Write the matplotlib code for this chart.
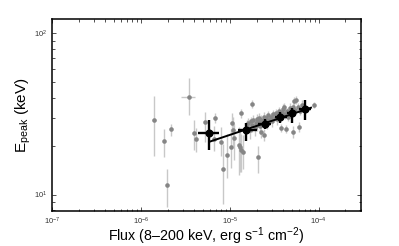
import matplotlib
matplotlib.use('Agg')
import matplotlib.pyplot as plt
import numpy as np

plt.rcParams['font.family'] = ['Liberation Sans', 'DejaVu Sans']
plt.rcParams['mathtext.fontset'] = 'custom'
plt.rcParams['mathtext.rm'] = 'Liberation Sans'
plt.rcParams['mathtext.it'] = 'Liberation Sans:italic'

# individual bursts (flux in erg/s/cm2, Epeak in keV)
flux = [1.42e-6, 1.84e-6, 2.17e-6, 1.99e-6, 3.45e-6, 3.93e-6, 4.2e-6,
        5.33e-6, 6.9e-6, 6.7e-6, 8.05e-6, 9.2e-6, 8.5e-6, 1.04e-5, 1.06e-5,
        1.09e-5, 1.13e-5, 1.27e-5, 1.32e-5, 1.35e-5, 1.41e-5, 1.35e-5,
        1.78e-5, 2.08e-5, 2.27e-5, 2.4e-5,
        1.55e-5, 1.62e-5, 1.68e-5, 1.75e-5, 1.8e-5, 1.85e-5, 1.9e-5, 1.95e-5,
        2.0e-5, 2.05e-5, 2.1e-5, 2.15e-5, 2.2e-5, 2.25e-5, 2.3e-5, 2.4e-5,
        2.45e-5, 2.55e-5, 2.6e-5, 2.7e-5, 2.8e-5, 2.9e-5, 3.0e-5, 3.1e-5,
        3.2e-5, 3.3e-5, 3.4e-5, 3.5e-5, 3.6e-5, 3.8e-5, 3.9e-5, 4.0e-5,
        4.2e-5, 4.4e-5, 4.5e-5, 4.7e-5, 4.9e-5, 5.1e-5, 5.4e-5, 5.8e-5,
        6.2e-5, 6.5e-5,
        4.1e-5, 5.3e-5, 5.5e-5, 8.8e-5, 3.73e-5, 4.3e-5, 5.1e-5, 6.0e-5]
epeak = [29.0, 21.4, 25.4, 11.4, 40.4, 24.2, 22.2,
         28.3, 30.0, 22.2, 21.3, 17.6, 14.5, 19.6, 27.9,
         25.1, 22.3, 20.3, 19.8, 18.9, 18.4, 31.9,
         36.3, 17.1, 24.5, 23.5,
         26.5, 27.8, 25.0, 28.5, 27.0, 29.0, 26.0, 28.0,
         29.5, 27.2, 28.4, 30.0, 26.8, 29.0, 27.9, 30.5,
         28.8, 29.8, 27.5, 31.0, 29.2, 30.2, 28.6, 31.5,
         30.0, 32.0, 29.5, 31.2, 33.0, 30.8, 32.5, 34.0,
         31.5, 33.2, 30.5, 34.5, 32.0, 35.0, 33.5, 34.8,
         33.0, 36.0,
         35.0, 38.1, 38.7, 36.0, 25.8, 25.5, 24.5, 26.3]
epeak_lo = [11.6, 4.2, 2.4, 3.0, 9.4, 5.2, 3.8,
            7.0, 2.0, 3.5, 4.0, 5.0, 5.7, 5.0, 4.0,
            5.0, 6.0, 7.0, 6.0, 5.0, 4.0, 2.0,
            2.0, 3.5, 2.0, 2.0,
            2.5, 2.0, 3.0, 2.0, 2.5, 2.0, 3.0, 2.0,
            2.0, 2.5, 1.5, 2.0, 3.0, 2.0, 1.5, 2.0,
            2.5, 1.5, 2.0, 2.0, 1.5, 2.0, 2.5, 2.0,
            1.5, 2.0, 2.5, 1.5, 2.0, 2.0, 1.5, 2.5,
            2.0, 1.5, 2.0, 2.5, 2.0, 2.0, 1.5, 2.0,
            2.0, 2.5,
            2.0, 2.5, 2.0, 1.5, 1.5, 1.5, 2.0, 2.0]
epeak_hi = [12.0, 4.1, 2.0, 3.0, 12.6, 4.8, 3.7,
            4.2, 2.0, 4.5, 5.0, 6.0, 6.0, 6.0, 4.0,
            5.0, 5.0, 6.0, 5.0, 5.0, 5.0, 2.0,
            2.5, 3.0, 2.0, 2.0,
            2.5, 2.0, 3.0, 2.0, 2.5, 2.0, 3.0, 2.0,
            2.0, 2.5, 1.5, 2.0, 3.0, 2.0, 1.5, 2.0,
            2.5, 1.5, 2.0, 2.0, 1.5, 2.0, 2.5, 2.0,
            1.5, 2.0, 2.5, 1.5, 2.0, 2.0, 1.5, 2.5,
            2.0, 1.5, 2.0, 2.5, 2.0, 2.0, 1.5, 2.0,
            2.0, 2.5,
            2.0, 2.5, 2.0, 1.5, 1.5, 1.5, 2.0, 2.0]
flux_err = [0.07e-6, 0, 0, 0, 0.65e-6, 0, 0] + [0] * 69

# binned averages
bin_flux = [5.87e-6, 1.52e-5, 2.48e-5, 3.7e-5, 4.98e-5, 6.98e-5]
bin_flux_lo = [1.47e-6, 0.28e-5, 0.38e-5, 0.5e-5, 0.63e-5, 0.98e-5]
bin_flux_hi = [1.63e-6, 0.5e-5, 0.42e-5, 0.65e-5, 0.62e-5, 1.22e-5]
bin_epeak = [24.2, 25.0, 27.4, 30.4, 31.9, 33.8]
bin_epeak_lo = [5.3, 3.5, 2.0, 2.5, 4.0, 4.9]
bin_epeak_hi = [4.8, 3.0, 2.1, 2.2, 2.6, 4.8]

# power-law fit end points
fit_flux = [5.95e-6, 8.2e-5]
fit_epeak = [21.3, 34.6]

fig = plt.figure(figsize=(3.99, 2.46), dpi=100)
ax = fig.add_axes([0.130, 0.142, 0.775, 0.781])

ax.errorbar(flux, epeak, yerr=[epeak_lo, epeak_hi], xerr=flux_err,
            fmt='o', color='#858585', ecolor='#c8c8c8', elinewidth=1.0,
            markersize=3.3, markeredgewidth=0, capsize=0, zorder=2)
ax.plot(fit_flux, fit_epeak, '-', color='k', lw=1.4, zorder=3)
ax.errorbar(bin_flux, bin_epeak, yerr=[bin_epeak_lo, bin_epeak_hi],
            xerr=[bin_flux_lo, bin_flux_hi], fmt='o', color='k',
            elinewidth=1.7, markersize=4.8, capsize=0, zorder=4)

ax.set_xscale('log')
ax.set_yscale('log')
ax.set_xlim(1e-7, 3e-4)
ax.set_ylim(7.9, 123)
ax.tick_params(which='both', direction='in', top=True, right=True,
               labelsize=5.5, width=0.6, colors='#333333', pad=3)
ax.tick_params(which='major', length=3)
ax.tick_params(which='minor', length=1.8)
for s in ax.spines.values():
    s.set_linewidth(1.1)
ax.set_xlabel('Flux (8\u2013200 keV, erg s$^{-1}$ cm$^{-2}$)', fontsize=10.3,
              labelpad=-1)
ax.set_ylabel('E$_{\\rm peak}$ (keV)', fontsize=11, labelpad=1)

fig.savefig('out.png', dpi=100)
